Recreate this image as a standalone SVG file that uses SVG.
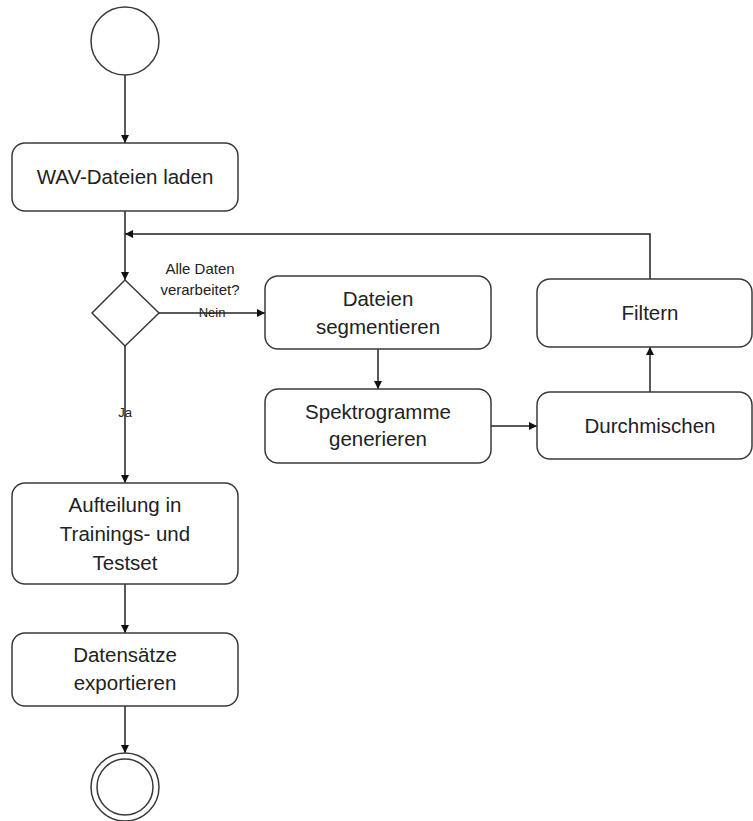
<svg xmlns="http://www.w3.org/2000/svg" width="753" height="821" viewBox="0 0 753 821">
<style>
.node{fill:#fff;stroke:#3a3a3a;stroke-width:1.5}
.t{font-family:"Liberation Sans",Arial,sans-serif;font-size:20.5px;fill:#222;text-anchor:middle}
.s{font-family:"Liberation Sans",Arial,sans-serif;font-size:15px;fill:#222;text-anchor:middle}
.xs{font-family:"Liberation Sans",Arial,sans-serif;font-size:13px;fill:#222;text-anchor:middle}
.edge{fill:none;stroke:#222;stroke-width:1.5}
</style>
<defs>
<marker id="arr" markerWidth="10" markerHeight="10" refX="8" refY="4" orient="auto" markerUnits="userSpaceOnUse">
<path d="M0,0 L8,4 L0,8 Z" fill="#111"/>
</marker>
</defs>
<rect width="753" height="821" fill="#fff"/>
<g id="edges">
<line class="edge" x1="125" y1="75" x2="125" y2="143" marker-end="url(#arr)"/>
<line class="edge" x1="125" y1="211" x2="125" y2="280" marker-end="url(#arr)"/>
<polyline class="edge" points="650,279 650,234 125,234" marker-end="url(#arr)"/>
<line class="edge" x1="159" y1="313" x2="265" y2="313" marker-end="url(#arr)"/>
<line class="edge" x1="125" y1="346" x2="125" y2="483" marker-end="url(#arr)"/>
<line class="edge" x1="378" y1="349" x2="378" y2="389" marker-end="url(#arr)"/>
<line class="edge" x1="491" y1="426" x2="537" y2="426" marker-end="url(#arr)"/>
<line class="edge" x1="650" y1="392" x2="650" y2="347" marker-end="url(#arr)"/>
<line class="edge" x1="125" y1="584" x2="125" y2="633" marker-end="url(#arr)"/>
<line class="edge" x1="125" y1="706" x2="125" y2="753" marker-end="url(#arr)"/>
<text class="s" x="200" y="274">Alle Daten</text>
<text class="s" x="200" y="295">verarbeitet?</text>
<text class="xs" x="212" y="317">Nein</text>
<text class="xs" x="125" y="417">Ja</text>
</g>
<g id="start"><circle class="node" cx="125" cy="41" r="34"/></g>
<g id="wav"><rect class="node" x="12" y="143" width="226" height="68" rx="13"/><text class="t" x="125" y="184">WAV-Dateien laden</text></g>
<g id="decision"><polygon class="node" points="125,280 159,313 125,346 92,313"/></g>
<g id="segment"><rect class="node" x="265" y="276" width="226" height="73" rx="13"/><text class="t" x="378" y="306">Dateien</text><text class="t" x="378" y="334">segmentieren</text></g>
<g id="spektro"><rect class="node" x="265" y="389" width="226" height="74" rx="13"/><text class="t" x="378" y="419">Spektrogramme</text><text class="t" x="378" y="446">generieren</text></g>
<g id="durch"><rect class="node" x="537" y="392" width="215" height="67" rx="13"/><text class="t" x="650" y="433">Durchmischen</text></g>
<g id="filtern"><rect class="node" x="537" y="279" width="215" height="68" rx="13"/><text class="t" x="650" y="320">Filtern</text></g>
<g id="aufteilung"><rect class="node" x="12" y="483" width="226" height="101" rx="13"/><text class="t" x="125" y="512">Aufteilung in</text><text class="t" x="125" y="541">Trainings- und</text><text class="t" x="125" y="570">Testset</text></g>
<g id="export"><rect class="node" x="12" y="633" width="226" height="73" rx="13"/><text class="t" x="125" y="662">Datensätze</text><text class="t" x="125" y="690">exportieren</text></g>
<g id="end"><circle class="node" cx="125" cy="787" r="34"/><circle class="node" cx="125" cy="787" r="28"/></g>
</svg>
